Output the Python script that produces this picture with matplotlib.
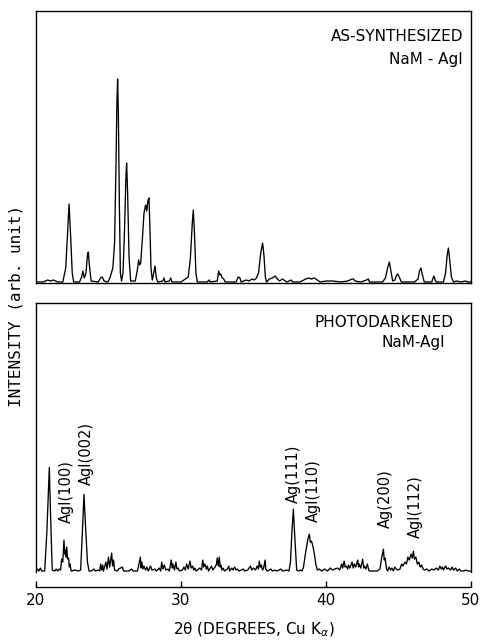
import matplotlib
matplotlib.use("Agg")
import matplotlib.pyplot as plt

TOP_TWO_THETA = [
    20.0, 20.5, 20.8, 21.0, 21.2, 21.5, 21.85, 22.05, 22.18, 22.28, 22.38, 22.5, 22.6,
    23.0, 23.15, 23.24, 23.33, 23.45, 23.55, 23.61, 23.68, 23.8, 24.3, 24.45, 24.57, 24.7,
    24.95, 25.1, 25.3, 25.42, 25.52, 25.58, 25.63, 25.68, 25.75, 25.82, 25.9, 26.0, 26.1,
    26.2, 26.25, 26.32, 26.42, 26.53, 26.85, 26.98, 27.08, 27.15, 27.22, 27.32, 27.45,
    27.56, 27.64, 27.72, 27.79, 27.85, 27.93, 28.02, 28.12, 28.21, 28.3, 28.4, 28.75,
    28.83, 28.9, 29.2, 29.29, 29.38, 29.6, 30.0, 30.3, 30.5, 30.65, 30.78, 30.85, 30.93,
    31.03, 31.13, 31.8, 31.95, 32.0, 32.5, 32.6, 32.68, 32.75, 32.85, 32.95, 33.05, 33.8,
    33.95, 34.07, 34.15, 34.5, 34.7, 34.9, 35.05, 35.2, 35.35, 35.5, 35.63, 35.72, 35.82,
    35.9, 36.1, 36.3, 36.5, 36.65, 36.8, 37.0, 37.1, 37.3, 37.6, 37.7, 38.2, 38.6, 38.8,
    39.0, 39.2, 39.4, 39.6, 40.0, 40.5, 41.0, 41.5, 41.8, 41.9, 42.0, 42.4, 42.8, 42.92,
    43.0, 43.9, 44.1, 44.25, 44.37, 44.48, 44.6, 44.75, 44.88, 44.95, 45.05, 45.2, 46.1,
    46.35, 46.45, 46.55, 46.65, 46.78, 47.3, 47.38, 47.45, 47.53, 47.6, 48.1, 48.25,
    48.36, 48.44, 48.52, 48.65, 48.8, 49.0, 49.3, 49.6, 49.8, 50.0,
]
TOP_COUNTS = [
    1, 1, 3, 2, 3, 1, 1, 15, 50, 79, 50, 10, 1,
    1, 6, 12, 5, 10, 28, 31, 18, 2, 1, 5, 6, 2,
    1, 5, 15, 40, 120, 180, 204, 170, 80, 10, 2, 10, 50,
    105, 120, 90, 25, 2, 2, 12, 23, 18, 20, 40, 70,
    78, 72, 82, 85, 60, 15, 3, 10, 17, 5, 1, 2,
    5, 1, 2, 5, 1, 1, 1, 4, 6, 25, 60, 73, 50,
    10, 1, 1, 3, 1, 2, 12, 8, 9, 5, 4, 1, 1,
    6, 5, 1, 3, 2, 4, 3, 5, 10, 30, 40, 28, 6,
    1, 4, 5, 7, 4, 2, 4, 3, 1, 3, 1, 1, 4, 5,
    4, 5, 3, 1, 2, 2, 1, 2, 4, 4, 2, 1, 3, 4,
    1, 1, 5, 15, 21, 12, 2, 3, 8, 9, 6, 1, 1,
    4, 12, 15, 8, 1, 1, 5, 7, 3, 1, 1, 10,
    28, 35, 25, 6, 1, 2, 1, 2, 1, 1,
]

BOTTOM_TWO_THETA = [
    20.0, 20.1, 20.2, 20.3, 20.4, 20.6, 20.75, 20.92, 21.0, 21.12, 21.3, 21.4, 21.5, 21.6,
    21.7, 21.77, 21.85, 21.93, 21.98, 22.03, 22.08, 22.11, 22.18, 22.25, 22.3, 22.35,
    22.43, 22.7, 22.9, 23.08, 23.2, 23.31, 23.42, 23.55, 23.66, 23.8, 24.0, 24.1, 24.3,
    24.4, 24.46, 24.52, 24.6, 24.65, 24.75, 24.82, 24.9, 25.0, 25.08, 25.15, 25.22, 25.28,
    25.35, 25.42, 25.6, 25.7, 25.95, 26.05, 26.4, 26.6, 26.7, 27.0, 27.2, 27.25, 27.3,
    27.38, 27.45, 27.55, 27.65, 27.75, 27.9, 28.0, 28.2, 28.3, 28.5, 28.6, 28.67, 28.75,
    28.85, 28.95, 29.1, 29.2, 29.33, 29.4, 29.45, 29.55, 29.65, 29.72, 29.8, 29.9, 30.1,
    30.2, 30.3, 30.39, 30.5, 30.62, 30.7, 30.8, 30.88, 30.95, 31.05, 31.3, 31.42, 31.5,
    31.57, 31.65, 31.75, 31.82, 31.9, 32.1, 32.2, 32.35, 32.45, 32.5, 32.57, 32.64, 32.7,
    32.75, 32.82, 32.9, 33.0, 33.2, 33.3, 33.35, 33.5, 33.6, 33.7, 33.8, 33.9, 34.0, 34.3,
    34.4, 34.6, 34.8, 34.88, 35.0, 35.15, 35.25, 35.35, 35.4, 35.48, 35.55, 35.62, 35.7,
    35.8, 35.85, 35.95, 36.2, 36.3, 36.5, 36.6, 36.9, 37.0, 37.3, 37.45, 37.55, 37.65,
    37.75, 37.85, 37.98, 38.1, 38.25, 38.35, 38.45, 38.6, 38.75, 38.85, 38.92, 39.0, 39.1,
    39.2, 39.3, 39.4, 39.55, 39.7, 39.9, 40.1, 40.3, 40.45, 40.6, 40.8, 40.95, 41.08,
    41.15, 41.25, 41.32, 41.4, 41.5, 41.55, 41.65, 41.8, 41.88, 41.95, 42.05, 42.19, 42.25,
    42.3, 42.4, 42.53, 42.6, 42.65, 42.75, 42.85, 42.95, 43.0, 43.3, 43.55, 43.72, 43.85,
    43.96, 44.02, 44.08, 44.18, 44.25, 44.35, 44.45, 44.55, 44.65, 44.75, 44.85, 44.95,
    45.1, 45.22, 45.3, 45.45, 45.55, 45.65, 45.75, 45.86, 45.95, 46.03, 46.1, 46.2, 46.3,
    46.4, 46.5, 46.6, 46.7, 46.8, 46.95, 47.1, 47.3, 47.45, 47.6, 47.75, 47.86, 47.95,
    48.03, 48.1, 48.25, 48.35, 48.45, 48.6, 48.7, 48.8, 48.95, 49.05, 49.2, 49.3, 49.5,
    49.65, 49.8, 50.0,
]
BOTTOM_COUNTS = [
    1, 3, 1, 4, 1, 1, 40, 105, 60, 2, 1, 3, 1, 3,
    2, 13, 10, 32, 18, 22, 15, 25, 13, 14, 5, 8,
    1, 2, 1, 2, 40, 78, 45, 10, 1, 1, 3, 1, 2,
    1, 8, 2, 7, 1, 6, 10, 3, 15, 5, 12, 19, 6,
    12, 2, 1, 3, 5, 1, 1, 3, 1, 1, 15, 4, 10,
    3, 6, 2, 5, 1, 6, 2, 3, 1, 4, 1, 10, 3,
    7, 2, 3, 1, 12, 4, 8, 2, 10, 3, 4, 1, 2,
    5, 2, 8, 3, 11, 4, 6, 2, 4, 1, 4, 2, 12,
    5, 8, 3, 6, 1, 6, 2, 5, 8, 14, 6, 15, 5,
    7, 2, 4, 1, 3, 6, 1, 4, 2, 5, 2, 3, 1, 3,
    1, 2, 6, 2, 4, 2, 6, 3, 11, 5, 7, 2, 4,
    12, 3, 1, 3, 1, 2, 1, 3, 1, 2, 1, 10, 40,
    63, 35, 2, 1, 2, 1, 5, 20, 33, 38, 30, 31, 26,
    18, 8, 2, 3, 1, 3, 1, 4, 2, 3, 4, 2, 8,
    4, 11, 5, 6, 3, 7, 4, 10, 4, 8, 5, 12, 5,
    8, 4, 13, 4, 6, 3, 8, 2, 1, 1, 1, 3, 15,
    23, 12, 14, 3, 1, 5, 2, 4, 1, 5, 3, 2,
    3, 8, 6, 10, 8, 15, 12, 18, 14, 21, 13, 15, 8,
    10, 5, 7, 3, 2, 3, 1, 3, 2, 4, 2, 6, 3,
    5, 2, 6, 3, 4, 2, 5, 2, 4, 1, 3, 1, 1,
    2, 1, 1,
]

TOP_TITLE = ["AS-SYNTHESIZED", "NaM - AgI"]
BOTTOM_TITLE = ["PHOTODARKENED", "NaM-AgI"]
PEAK_LABELS = ["AgI(100)", "AgI(002)", "Ag(111)", "AgI(110)", "Ag(200)", "AgI(112)"]
X_TICKS = [20, 30, 40, 50]

# where the rotated peak labels sit (2-theta, intensity of the label foot)
PEAK_LABEL_ANCHORS = [(22.12, 49), (23.5, 87), (37.72, 69), (39.1, 50), (44.07, 44), (46.2, 34)]


def make_plot():
    fig = plt.figure(figsize=(4.83, 6.41), dpi=100)
    ax_top = fig.add_axes([0.0745, 0.5585, 0.9006, 0.4243])
    ax_bot = fig.add_axes([0.0745, 0.1076, 0.9006, 0.4197])

    # Top panel: as-synthesized sample
    ax_top.plot(TOP_TWO_THETA, TOP_COUNTS, color="black", lw=0.95)
    ax_top.set_xlim(20, 50)
    ax_top.set_ylim(0, 272)
    ax_top.set_xticks([])
    ax_top.set_yticks([])
    for sp in ax_top.spines.values():
        sp.set_linewidth(1.0)
    ax_top.text(0.982, 0.908, TOP_TITLE[0], transform=ax_top.transAxes,
                ha="right", va="center", fontsize=11)
    ax_top.text(0.980, 0.82, TOP_TITLE[1], transform=ax_top.transAxes,
                ha="right", va="center", fontsize=11)

    # Bottom panel: photodarkened sample, x axis drawn a little below the trace
    ax_bot.plot(BOTTOM_TWO_THETA, BOTTOM_COUNTS, color="black", lw=0.95)
    ax_bot.set_xlim(20, 50)
    ax_bot.set_ylim(0, 270)
    ax_bot.set_yticks([])
    ax_bot.spines["bottom"].set_position(("outward", 11))
    ax_bot.set_xticks(X_TICKS)
    ax_bot.tick_params(axis="x", direction="in", length=4, width=1.0, pad=4, labelsize=11)
    for sp in ax_bot.spines.values():
        sp.set_linewidth(1.0)
    ax_bot.text(0.959, 0.929, BOTTOM_TITLE[0], transform=ax_bot.transAxes,
                ha="right", va="center", fontsize=11)
    ax_bot.text(0.940, 0.855, BOTTOM_TITLE[1], transform=ax_bot.transAxes,
                ha="right", va="center", fontsize=11)

    for label, (x, y) in zip(PEAK_LABELS, PEAK_LABEL_ANCHORS):
        ax_bot.text(x, y, label, rotation=90, ha="center", va="bottom", fontsize=10.5)

    fig.text(0.526, 0.017, "2θ (DEGREES, Cu K$_{\\alpha}$)",
             ha="center", va="center", fontsize=11)
    fig.text(0.033, 0.522, "INTENSITY (arb. unit)", rotation=90,
             ha="center", va="center", fontsize=11.5, family="DejaVu Sans Mono")

    fig.savefig("out.png", dpi=100)


if __name__ == "__main__":
    make_plot()
